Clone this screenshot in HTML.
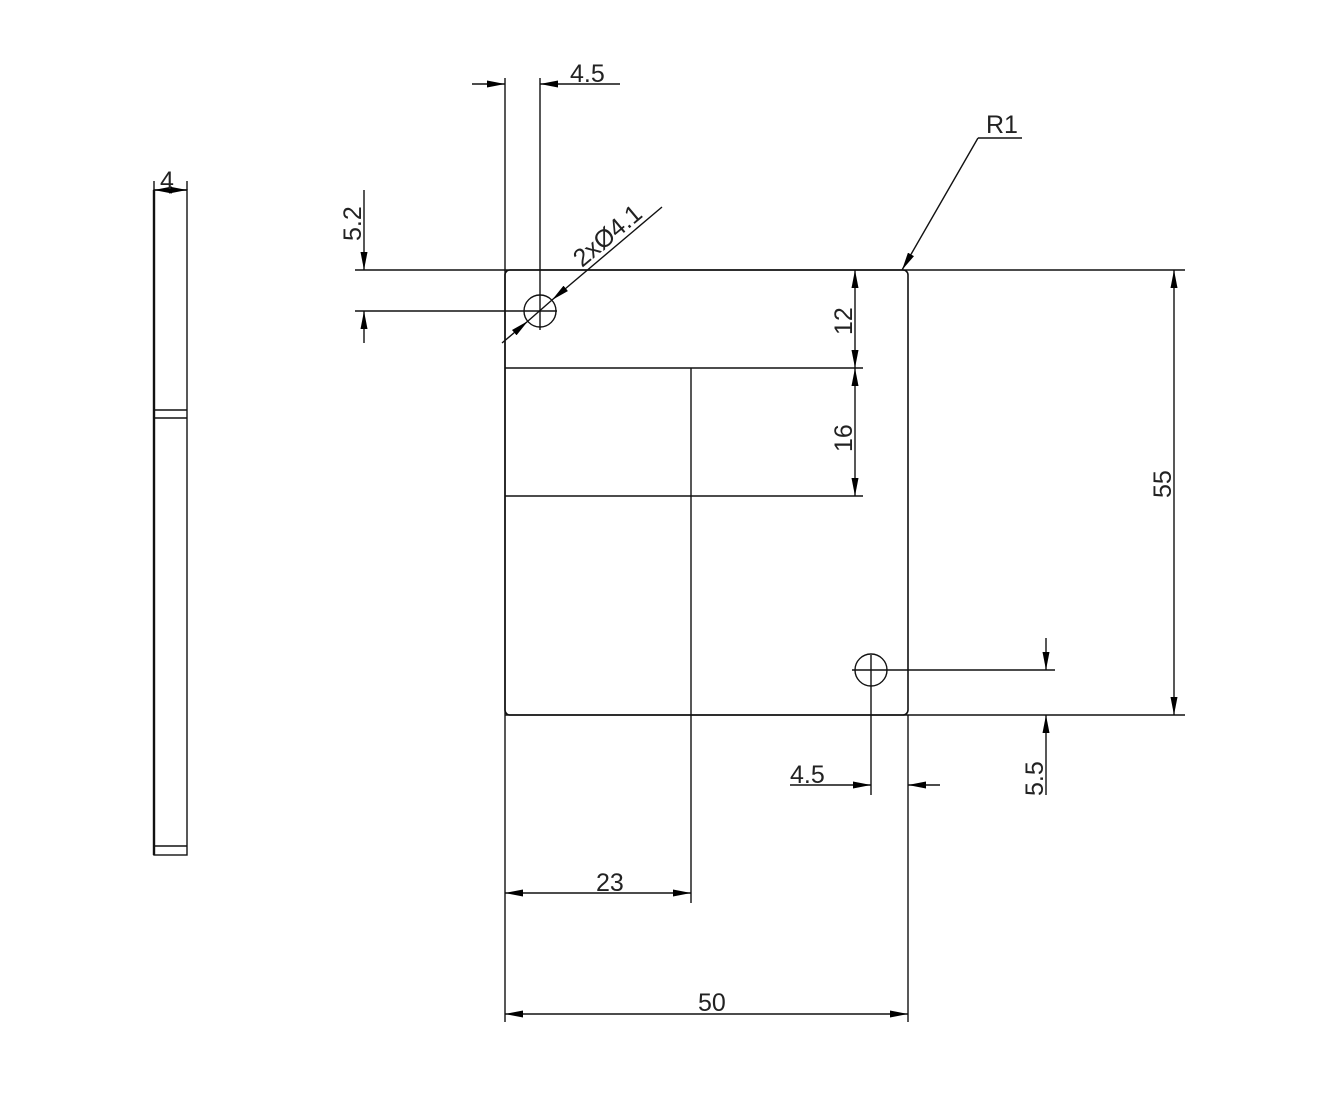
<!DOCTYPE html>
<html><head><meta charset="utf-8"><style>
html,body{margin:0;padding:0;background:#fff;}
svg{display:block;}
text{font-family:"Liberation Sans",sans-serif;font-size:25px;fill:#222;}
</style></head><body>
<svg width="1323" height="1116" viewBox="0 0 1323 1116" xmlns="http://www.w3.org/2000/svg">
<defs>
<marker id="a" viewBox="0 0 18 7" refX="18" refY="3.5" markerWidth="18" markerHeight="7" markerUnits="userSpaceOnUse" orient="auto-start-reverse">
<path d="M0,0 L18,3.5 L0,7 z" fill="#000"/>
</marker>
</defs>
<g stroke="#111" stroke-width="1.4" fill="none">
<!-- side view -->
<rect x="154" y="190" width="33" height="665"/>
<line x1="154" y1="190" x2="154" y2="855" stroke-width="2.4"/>
<line x1="154" y1="410" x2="187" y2="410"/>
<line x1="154" y1="418" x2="187" y2="418"/>
<line x1="154" y1="846" x2="187" y2="846"/>
<line x1="154" y1="181" x2="154" y2="190"/>
<line x1="187" y1="181" x2="187" y2="190"/>
<line x1="154" y1="190" x2="187" y2="190" marker-start="url(#a)" marker-end="url(#a)"/>

<!-- plate -->
<rect x="505" y="270" width="403" height="445" rx="5" stroke-width="1.6"/>
<line x1="355" y1="270" x2="1185" y2="270" stroke-width="1.6"/>
<line x1="505" y1="715" x2="1185" y2="715" stroke-width="1.6"/>
<line x1="505" y1="78" x2="505" y2="1022"/>
<line x1="908" y1="715" x2="908" y2="1022"/>
<line x1="540" y1="78" x2="540" y2="330"/>
<line x1="355" y1="311" x2="557" y2="311"/>
<circle cx="540" cy="311" r="16"/>
<line x1="505" y1="368" x2="863" y2="368" stroke-width="1.6"/>
<line x1="505" y1="496" x2="863" y2="496"/>
<line x1="691" y1="368" x2="691" y2="903"/>
<circle cx="871" cy="670" r="16"/>
<line x1="852" y1="670" x2="1055" y2="670"/>
<line x1="871" y1="655" x2="871" y2="795"/>

<!-- dims -->
<line x1="472" y1="84" x2="505" y2="84" marker-end="url(#a)"/>
<line x1="620" y1="84" x2="540" y2="84" marker-end="url(#a)"/>
<line x1="364" y1="190" x2="364" y2="270" marker-end="url(#a)"/>
<line x1="364" y1="343" x2="364" y2="311" marker-end="url(#a)"/>
<line x1="855" y1="270" x2="855" y2="368" marker-start="url(#a)" marker-end="url(#a)"/>
<line x1="855" y1="368" x2="855" y2="496" marker-start="url(#a)" marker-end="url(#a)"/>
<line x1="1174" y1="270" x2="1174" y2="715" marker-start="url(#a)" marker-end="url(#a)"/>
<line x1="1046" y1="638" x2="1046" y2="670" marker-end="url(#a)"/>
<line x1="1046" y1="795" x2="1046" y2="715" marker-end="url(#a)"/>
<line x1="790" y1="785" x2="871" y2="785" marker-end="url(#a)"/>
<line x1="940" y1="785" x2="908" y2="785" marker-end="url(#a)"/>
<line x1="505" y1="893" x2="691" y2="893" marker-start="url(#a)" marker-end="url(#a)"/>
<line x1="505" y1="1014" x2="908" y2="1014" marker-start="url(#a)" marker-end="url(#a)"/>
<!-- diameter leader -->
<line x1="662" y1="207" x2="552" y2="300" marker-end="url(#a)"/>
<line x1="552" y1="300" x2="528" y2="321"/>
<line x1="502" y1="343" x2="528" y2="321" marker-end="url(#a)"/>
<!-- R1 -->
<line x1="1022" y1="138" x2="978" y2="138"/>
<line x1="978" y1="138" x2="902" y2="270" marker-end="url(#a)"/>
</g>
<text x="570" y="82">4.5</text>
<text x="160" y="189">4</text>
<text x="986" y="133">R1</text>
<text x="790" y="783">4.5</text>
<text x="596" y="891">23</text>
<text x="698" y="1011">50</text>
<text transform="translate(361,241) rotate(-90)">5.2</text>
<text transform="translate(852,335) rotate(-90)">12</text>
<text transform="translate(852,452) rotate(-90)">16</text>
<text transform="translate(1171,498) rotate(-90)">55</text>
<text transform="translate(1043,796) rotate(-90)">5.5</text>
<text transform="translate(582,268) rotate(-40)">2xØ4.1</text>
</svg>
</body></html>
